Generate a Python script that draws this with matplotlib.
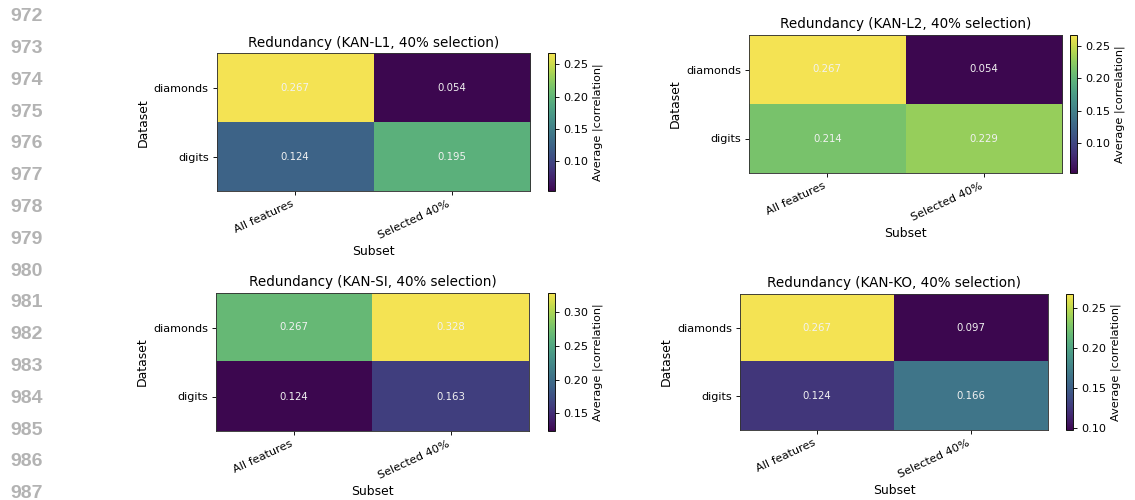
import numpy as np
import matplotlib
matplotlib.use("Agg")
import matplotlib.pyplot as plt
from matplotlib.colors import ListedColormap

# Average |correlation| per dataset (rows) and subset (columns)
datasets = ["diamonds", "digits"]
subsets = ["All features", "Selected 40%"]
methods = ["KAN-L1", "KAN-L2", "KAN-SI", "KAN-KO"]
red_l1 = [[0.267, 0.054], [0.124, 0.195]]
red_l2 = [[0.267, 0.054], [0.214, 0.229]]
red_si = [[0.267, 0.328], [0.124, 0.163]]
red_ko = [[0.267, 0.097], [0.124, 0.166]]
line_numbers = list(range(972, 988))

W, H = 1135, 500
S = 0.81  # page scale of the embedded figures

plt.rcParams.update({
    "font.family": "DejaVu Sans",
    "font.size": 10 * S,
    "axes.labelsize": 11 * S,
    "axes.linewidth": 0.8 * S,
    "xtick.major.size": 3.5 * S,
    "ytick.major.size": 3.5 * S,
    "xtick.major.width": 0.8 * S,
    "ytick.major.width": 0.8 * S,
    "xtick.major.pad": 3.5 * S,
    "ytick.major.pad": 3.5 * S,
    "axes.labelpad": 4 * S,
    "axes.titlepad": 6 * S,
})


def to_p3(rgb):
    # viridis as it shows on a wide-gamut (Display P3) page render
    lin = np.where(rgb <= 0.04045, rgb / 12.92, ((rgb + 0.055) / 1.055) ** 2.4)
    m = np.array([[0.8225, 0.1774, 0.0000],
                  [0.0332, 0.9669, 0.0000],
                  [0.0171, 0.0724, 0.9108]])
    out = np.clip(lin @ m.T, 0, 1)
    enc = np.where(out <= 0.0031308, out * 12.92, 1.055 * out ** (1 / 2.4) - 0.055)
    return np.clip(enc * 0.98, 0, 1)


base = plt.get_cmap("viridis")(np.linspace(0, 1, 256))[:, :3]
cmap = ListedColormap(to_p3(base))

fig = plt.figure(figsize=(W / 100, H / 100), dpi=100)


def box(x0, y0, x1, y1):
    return [x0 / W, 1 - y1 / H, (x1 - x0) / W, (y1 - y0) / H]


layout = [
    ((216.7, 53.3, 530, 191), (547.7, 53.3, 555, 191)),
    ((749, 35, 1062, 173), (1070, 35, 1077, 173)),
    ((216, 293, 529, 431), (548, 293, 555, 431)),
    ((740, 294, 1048, 430), (1066, 294, 1073, 430)),
]
tables = [red_l1, red_l2, red_si, red_ko]

for name, vals, (abox, cbox) in zip(methods, tables, layout):
    arr = np.array(vals)
    ax = fig.add_axes(box(*abox))
    cax = fig.add_axes(box(*cbox))
    im = ax.imshow(arr, cmap=cmap, aspect="auto")
    ax.set_xticks(range(len(subsets)))
    ax.set_xticklabels(subsets, rotation=25, ha="right")
    ax.set_yticks(range(len(datasets)))
    ax.set_yticklabels(datasets)
    ax.set_xlabel("Subset")
    ax.set_ylabel("Dataset")
    ax.set_title(f"Redundancy ({name}, 40% selection)", fontsize=12 * S)
    for sp in ax.spines.values():
        sp.set_edgecolor("#333333")
    for i in range(arr.shape[0]):
        for j in range(arr.shape[1]):
            ax.text(j, i, f"{arr[i, j]:.3f}", ha="center", va="center",
                    color="#f2f2f2", fontsize=9 * S)
    cb = fig.colorbar(im, cax=cax)
    cb.set_label("Average |correlation|", fontsize=10 * S)
    cb.outline.set_linewidth(0.8 * S)

# line numbers down the left margin of the page
for k, n in enumerate(line_numbers):
    y = 16.7 + k * 31.8
    fig.text(10 / W, 1 - y / H, str(n), ha="left", va="center",
             fontsize=14, color="#b3b3b3", fontweight="bold",
             family="Liberation Sans")

fig.savefig("out.png", dpi=100)
